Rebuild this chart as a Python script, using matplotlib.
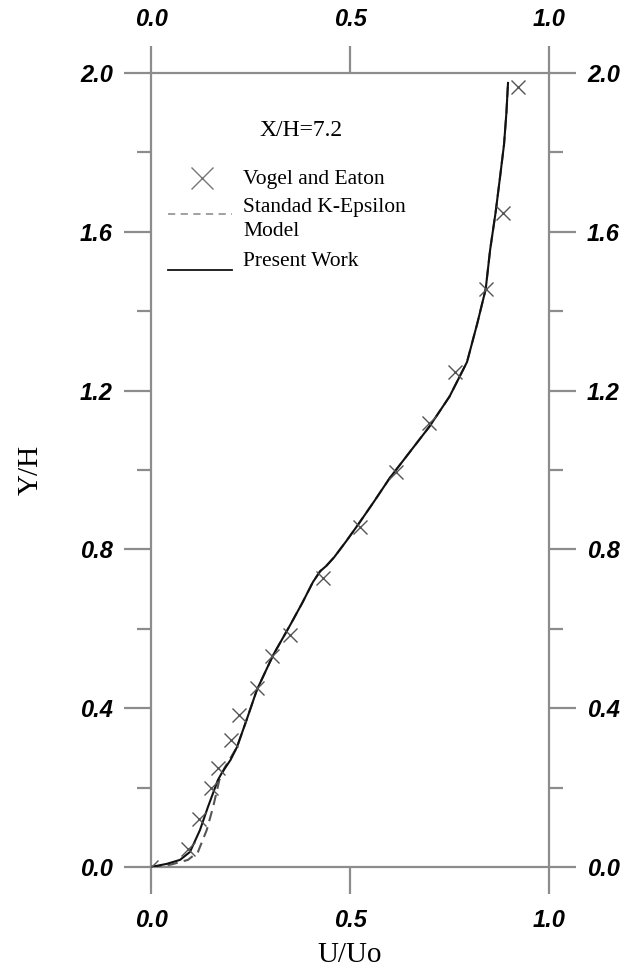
import matplotlib
matplotlib.use("Agg")
import matplotlib.pyplot as plt
from matplotlib.ticker import MultipleLocator, FixedLocator
from matplotlib.font_manager import FontProperties

# Experimental data (Vogel and Eaton)
exp_u = [0.0, 0.093, 0.12, 0.151, 0.168, 0.20, 0.221, 0.266, 0.304, 0.349,
         0.432, 0.525, 0.616, 0.699, 0.764, 0.841, 0.884, 0.922]
exp_y = [0.0, 0.045, 0.12, 0.199, 0.249, 0.32, 0.383, 0.451, 0.531, 0.584,
         0.728, 0.856, 0.995, 1.118, 1.247, 1.456, 1.647, 1.965]

# Present work (solid)
pw_u = [0.0, 0.04, 0.073, 0.098, 0.123, 0.143, 0.168, 0.178, 0.20, 0.216,
        0.24, 0.266, 0.307, 0.35, 0.38, 0.407, 0.425, 0.44, 0.46, 0.49,
        0.52, 0.56, 0.60, 0.65, 0.70, 0.75, 0.794, 0.82, 0.841, 0.852,
        0.866, 0.877, 0.887, 0.893, 0.897]
pw_y = [0.0, 0.008, 0.018, 0.038, 0.093, 0.151, 0.219, 0.237, 0.27, 0.302,
        0.37, 0.446, 0.534, 0.61, 0.665, 0.718, 0.745, 0.758, 0.78, 0.82,
        0.862, 0.92, 0.98, 1.045, 1.11, 1.185, 1.272, 1.37, 1.456, 1.554,
        1.65, 1.738, 1.82, 1.90, 1.975]

# Standard k-epsilon model (dashed)
ke_u = [0.0, 0.05, 0.093, 0.118, 0.14, 0.156, 0.172, 0.185, 0.20, 0.216,
        0.24, 0.266, 0.307, 0.35, 0.38, 0.407, 0.425, 0.44, 0.46, 0.49,
        0.52, 0.56, 0.60, 0.65, 0.70, 0.75, 0.794, 0.82, 0.841, 0.852,
        0.866, 0.877, 0.887, 0.893, 0.897]
ke_y = [0.0, 0.006, 0.018, 0.038, 0.093, 0.151, 0.22, 0.25, 0.275, 0.302,
        0.37, 0.446, 0.534, 0.61, 0.665, 0.718, 0.745, 0.758, 0.78, 0.82,
        0.862, 0.92, 0.98, 1.045, 1.11, 1.185, 1.272, 1.37, 1.456, 1.554,
        1.65, 1.738, 1.82, 1.90, 1.975]

x_ticks = [0.0, 0.5, 1.0]
y_ticks = [0.0, 0.4, 0.8, 1.2, 1.6, 2.0]

frame_col = "#8c8c8c"
serif = ["Liberation Serif", "DejaVu Serif"]
tickfp = FontProperties(family=["Liberation Sans", "DejaVu Sans"],
                        style="italic", weight="bold", size=17)

fig = plt.figure(figsize=(6.25, 9.67), dpi=100)
ax = fig.add_axes([151/625, 100/967, 398/625, 794/967])

ax.plot(ke_u, ke_y, color="#555555", lw=1.5, ls=(0, (5, 3)), zorder=3)
ax.plot(pw_u, pw_y, color="#111111", lw=1.5, zorder=4)
ax.plot(exp_u, exp_y, ls="none", marker="x", ms=10, mew=1.0,
        color="#555555", zorder=5)

ax.set_xlim(0, 1)
ax.set_ylim(0, 2)
ax.xaxis.set_major_locator(FixedLocator(x_ticks))
ax.yaxis.set_major_locator(FixedLocator(y_ticks))
ax.yaxis.set_minor_locator(MultipleLocator(0.2))

for s in ax.spines.values():
    s.set_color(frame_col)
    s.set_linewidth(1.6)

ax.tick_params(which="major", direction="out", length=19.4, width=1.6,
               color=frame_col, top=True, right=True,
               labeltop=True, labelright=True)
ax.tick_params(which="minor", direction="out", length=10, width=1.6,
               color=frame_col, left=True, right=True)
ax.xaxis.set_tick_params(which="major", pad=11)
ax.yaxis.set_tick_params(which="major", pad=8)
ax.set_xticklabels([f"{v:.1f}" for v in x_ticks])
ax.set_yticklabels([f"{v:.1f}" for v in y_ticks])
for axis in (ax.xaxis, ax.yaxis):
    for t in axis.get_major_ticks():
        t.label1.set_fontproperties(tickfp)
        t.label2.set_fontproperties(tickfp)

ax.set_xlabel("U/Uo", family=serif, fontsize=21, labelpad=7)
ax.set_ylabel("Y/H", family=serif, fontsize=21, labelpad=26)

# annotation and legend
ax.text(0.377, 0.928, "X/H=7.2", transform=ax.transAxes, family=serif,
        fontsize=17, ha="center", va="center")
ax.plot([0.128], [0.868], transform=ax.transAxes, marker="x", ms=16,
        mew=1.0, color="#777777", clip_on=False)
ax.plot([0.043, 0.204], [0.822, 0.822], transform=ax.transAxes,
        color="#999999", lw=1.3, ls=(0, (4, 3)))
ax.plot([0.043, 0.204], [0.752, 0.752], transform=ax.transAxes,
        color="#111111", lw=1.3)
leg_x = 0.231
leg_fs = 15.5
ax.text(leg_x, 0.866, "Vogel and Eaton", transform=ax.transAxes,
        family=serif, fontsize=leg_fs, va="center")
ax.text(leg_x, 0.831, "Standad K-Epsilon", transform=ax.transAxes,
        family=serif, fontsize=leg_fs, va="center")
ax.text(leg_x, 0.80, "Model", transform=ax.transAxes,
        family=serif, fontsize=leg_fs, va="center")
ax.text(leg_x, 0.762, "Present Work", transform=ax.transAxes,
        family=serif, fontsize=leg_fs, va="center")

fig.savefig("out.png", dpi=100)
